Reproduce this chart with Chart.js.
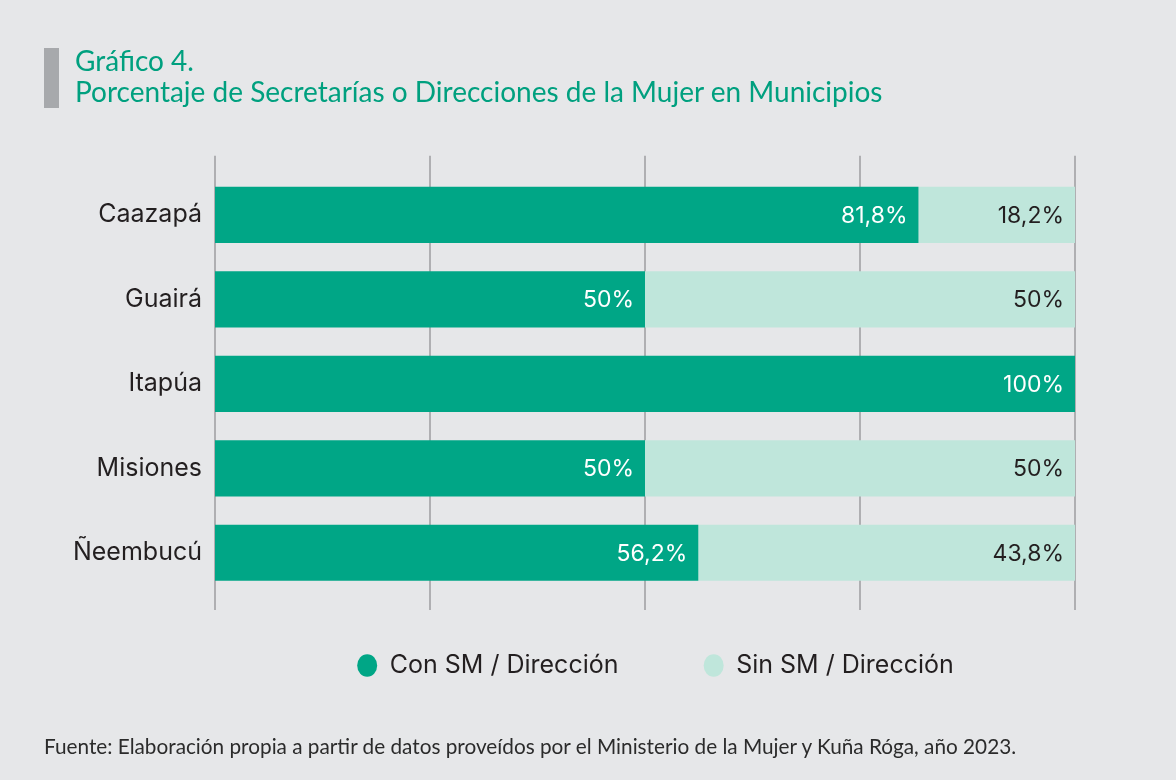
<!DOCTYPE html>
<html>
<head>
<meta charset="utf-8">
<script src="https://cdn.jsdelivr.net/npm/chart.js@4.4.1/dist/chart.umd.min.js"></script>
<style>
  html, body { margin: 0; padding: 0; background: #e6e7e9; }
  body { width: 1176px; height: 780px; position: relative; overflow: hidden; }
  #bar { position: absolute; left: 44px; top: 48px; width: 15px; height: 60px; background: #a7a9ac; }
  #title { position: absolute; left: 75px; top: 45px; color: #00a07f; font-family: Lato, sans-serif;
           font-size: 28px; line-height: 31px; }
  #note { position: absolute; left: 44px; top: 734px; color: #2b2b2b; font-family: Lato, sans-serif;
          font-size: 20.75px; }
  #wrap { position: absolute; left: 0; top: 0; width: 1176px; height: 780px; }
</style>
</head>
<body>
<div id="wrap"><canvas id="chart"></canvas></div>
<div id="bar"></div>
<div id="title">Gráfico 4.<br>Porcentaje de Secretarías o Direcciones de la Mujer en Municipios</div>
<div id="note">Fuente: Elaboración propia a partir de datos proveídos por el Ministerio de la Mujer y Kuña Róga, año 2023.</div>
<script>
const departamentos = ["Caazapá", "Guairá", "Itapúa", "Misiones", "Ñeembucú"]
const conSM = [81.8, 50, 100, 50, 56.2]
const sinSM = [18.2, 50, 0, 50, 43.8]
const xTicks = [0, 25, 50, 75, 100]
const seriesNames = ["Con SM / Dirección", "Sin SM / Dirección"]

const colors = { dark: "#00a686", light: "#bfe6db", grid: "#9d9d9f", text: "#231f20" }
const fontFamily = "Inter, 'DejaVu Sans', sans-serif"

function pct(v) {
  return String(v).replace(".", ",") + "%"
}

const gridLines = {
  id: "gridLines",
  beforeDatasetsDraw(chart) {
    const { ctx, chartArea, scales } = chart
    ctx.save()
    ctx.strokeStyle = colors.grid
    ctx.lineWidth = 1.5
    xTicks.forEach((t) => {
      const x = Math.round(scales.x.getPixelForValue(t))
      ctx.beginPath()
      ctx.moveTo(x, chartArea.top - 17)
      ctx.lineTo(x, chartArea.bottom + 15)
      ctx.stroke()
    })
    ctx.restore()
  },
}

const barLabels = {
  id: "barLabels",
  afterDatasetsDraw(chart) {
    const { ctx } = chart
    ctx.save()
    ctx.font = "23px " + fontFamily
    ctx.textAlign = "right"
    ctx.textBaseline = "middle"
    chart.data.datasets.forEach((ds, i) => {
      chart.getDatasetMeta(i).data.forEach((bar, j) => {
        const v = ds.data[j]
        if (!v) return
        ctx.fillStyle = i === 0 ? "#ffffff" : colors.text
        ctx.fillText(pct(v), bar.x - 11, bar.y + 1)
      })
    })
    ctx.restore()
  },
}

// move the legend row so it sits under the bars like the original
const legendShift = {
  id: "legendShift",
  afterLayout(chart) {
    const lg = chart.legend
    lg.left += 118
    lg.right += 118
  },
}

new Chart(document.getElementById("chart"), {
  type: "bar",
  data: {
    labels: departamentos,
    datasets: [
      { label: seriesNames[0], data: conSM, backgroundColor: colors.dark },
      { label: seriesNames[1], data: sinSM, backgroundColor: colors.light },
    ],
  },
  options: {
    indexAxis: "y",
    responsive: true,
    maintainAspectRatio: false,
    animation: false,
    categoryPercentage: 0.665,
    barPercentage: 1,
    layout: { padding: { top: 172.7, right: 101, bottom: 92, left: 0 } },
    scales: {
      x: {
        stacked: true,
        min: 0,
        max: 100,
        grid: { display: false, drawTicks: false },
        border: { display: false },
        ticks: { display: false },
        afterFit(scale) { scale.height = 15 },
      },
      y: {
        stacked: true,
        grid: { display: false, drawTicks: false },
        border: { display: false },
        ticks: { color: colors.text, font: { family: fontFamily, size: 25 }, padding: 13 },
        afterFit(scale) { scale.width = 215 },
      },
    },
    plugins: {
      tooltip: { enabled: false },
      legend: {
        position: "bottom",
        labels: {
          usePointStyle: true,
          pointStyle: "circle",
          pointStyleWidth: 20,
          boxHeight: 16,
          padding: 43,
          color: colors.text,
          font: { family: fontFamily, size: 25 },
          generateLabels(chart) {
            const items = Chart.defaults.plugins.legend.labels.generateLabels(chart)
            items.forEach((it) => { it.lineWidth = 0; it.strokeStyle = "transparent" })
            items[0].text = items[0].text + "      "
            return items
          },
        },
      },
    },
  },
  plugins: [gridLines, barLabels, legendShift],
})
</script>
</body>
</html>
